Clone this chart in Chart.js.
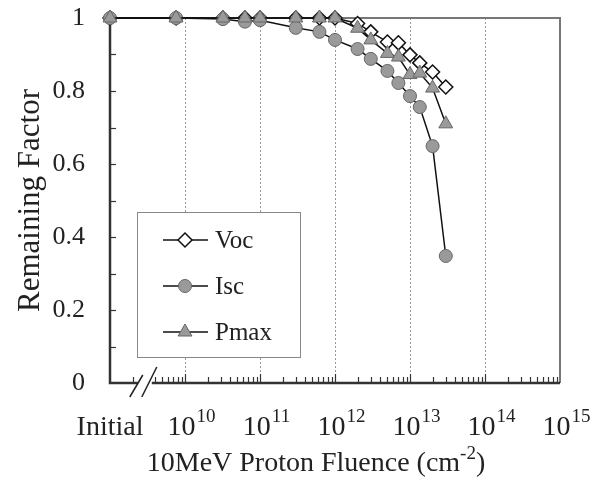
<!DOCTYPE html>
<html>
<head>
<meta charset="utf-8">
<script src="https://cdn.jsdelivr.net/npm/chart.js@4/dist/chart.umd.min.js"></script>
<style>
  body { margin: 0; background: #fff; }
  #wrap { width: 590px; height: 477px; }
</style>
</head>
<body>
<div id="wrap"><canvas id="chart"></canvas></div>
<script>
// fluence (cm^-2); first point is the "Initial" position at the left edge
const initialPos = 1e9;
const fluence = [1e9, 7.6e9, 3.2e10, 6.3e10, 1e11, 3e11, 6.2e11, 1e12, 2e12, 3e12, 5e12, 7e12, 1e13, 1.35e13, 2e13, 3e13];
const voc  = [1, 1, 1, 1, 1, 1, 1, 1, 0.985, 0.962, 0.934, 0.932, 0.899, 0.877, 0.852, 0.811];
const isc  = [1, 1, 0.997, 0.99, 0.994, 0.973, 0.962, 0.94, 0.915, 0.888, 0.855, 0.822, 0.786, 0.756, 0.649, 0.348];
const pmax = [1, 1, 1, 1, 1, 1, 1, 1, 0.972, 0.94, 0.903, 0.893, 0.845, 0.849, 0.808, 0.71];
const exponents = [10, 11, 12, 13, 14, 15];
const gridDecades = [1e10, 1e11, 1e12, 1e13, 1e14];

const serif = "'Liberation Serif', 'DejaVu Serif', serif";
const ink = '#222';

function pts(ys) {
  return fluence.map((f, i) => ({ x: f, y: ys[i] }));
}

// draws the frame, decade grid, inward ticks and the axis break
const axesPlugin = {
  id: 'axesDeco',
  beforeDatasetsDraw(chart) {
    const { ctx, chartArea: a, scales: { x, y } } = chart;
    ctx.save();
    // dotted decade gridlines
    ctx.strokeStyle = '#999';
    ctx.lineWidth = 1;
    ctx.setLineDash([2, 2]);
    gridDecades.forEach(d => {
      const px = Math.round(x.getPixelForValue(d)) + 0.5;
      ctx.beginPath();
      ctx.moveTo(px, a.top);
      ctx.lineTo(px, a.bottom);
      ctx.stroke();
    });
    ctx.setLineDash([]);
    // x minor ticks
    ctx.strokeStyle = '#333';
    ctx.lineWidth = 1.2;
    for (let e = 9; e < 15; e++) {
      for (let m = 1; m <= 9; m++) {
        const v = m * Math.pow(10, e);
        if (v <= x.min) continue;
        const px = Math.round(x.getPixelForValue(v)) + 0.5;
        const len = m === 1 ? 9 : 6;
        ctx.beginPath();
        ctx.moveTo(px, a.bottom);
        ctx.lineTo(px, a.bottom - len);
        ctx.stroke();
      }
    }
    // y ticks every 0.1
    for (let i = 1; i < 10; i++) {
      const py = Math.round(y.getPixelForValue(i / 10)) + 0.5;
      ctx.beginPath();
      ctx.moveTo(a.left, py);
      ctx.lineTo(a.left + 6, py);
      ctx.stroke();
    }
    // frame
    ctx.strokeStyle = '#777';
    ctx.lineWidth = 2;
    ctx.beginPath();
    ctx.moveTo(a.left, a.top);
    ctx.lineTo(a.right, a.top);
    ctx.lineTo(a.right, a.bottom);
    ctx.stroke();
    ctx.strokeStyle = '#333';
    ctx.lineWidth = 2.5;
    ctx.beginPath();
    ctx.moveTo(a.left, a.top);
    ctx.lineTo(a.left, a.bottom);
    ctx.lineTo(a.right, a.bottom);
    ctx.stroke();
    // axis break
    const bx = x.getPixelForValue(3e9);
    ctx.fillStyle = '#fff';
    ctx.fillRect(bx - 8, a.bottom - 8, 14, 12);
    ctx.strokeStyle = '#222';
    ctx.lineWidth = 1.5;
    ctx.beginPath();
    ctx.moveTo(bx - 16, a.bottom + 14);
    ctx.lineTo(bx - 3, a.bottom - 8);
    ctx.moveTo(bx - 4, a.bottom + 14);
    ctx.lineTo(bx + 11, a.bottom - 16);
    ctx.stroke();
    ctx.restore();
  },
  afterDraw(chart) {
    const { ctx, chartArea: a, scales: { x } } = chart;
    ctx.save();
    ctx.fillStyle = ink;
    ctx.textBaseline = 'alphabetic';
    // x tick labels
    const base = a.bottom + 52;
    ctx.font = '28px ' + serif;
    ctx.textAlign = 'center';
    ctx.fillText('Initial', x.getPixelForValue(initialPos), base);
    exponents.forEach(e => {
      ctx.font = '28px ' + serif;
      const w1 = ctx.measureText('10').width;
      ctx.font = '19px ' + serif;
      const w2 = ctx.measureText(String(e)).width;
      const cx = x.getPixelForValue(Math.pow(10, e)) + 6;
      const left = cx - (w1 + w2) / 2;
      ctx.textAlign = 'left';
      ctx.font = '28px ' + serif;
      ctx.fillText('10', left, base);
      ctx.font = '19px ' + serif;
      ctx.fillText(String(e), left + w1 + 1, base - 13);
    });
    // x axis title with superscript
    const t1 = '10MeV Proton Fluence (cm';
    const t2 = '-2';
    const t3 = ')';
    ctx.font = '28px ' + serif;
    const w1 = ctx.measureText(t1).width;
    const w3 = ctx.measureText(t3).width;
    ctx.font = '19px ' + serif;
    const w2 = ctx.measureText(t2).width;
    let tx = (a.left + a.right) / 2 - 19 - (w1 + w2 + w3) / 2;
    const ty = a.bottom + 88;
    ctx.textAlign = 'left';
    ctx.font = '28px ' + serif;
    ctx.fillText(t1, tx, ty);
    ctx.font = '19px ' + serif;
    ctx.fillText(t2, tx + w1, ty - 12);
    ctx.font = '28px ' + serif;
    ctx.fillText(t3, tx + w1 + w2, ty);

    // legend box
    const lx = 137, ly = 212, lw = 163, lh = 145;
    ctx.fillStyle = '#fff';
    ctx.fillRect(lx, ly, lw, lh);
    ctx.strokeStyle = '#888';
    ctx.lineWidth = 1;
    ctx.strokeRect(lx + 0.5, ly + 0.5, lw, lh);
    chart.data.datasets.forEach((ds, i) => {
      const yy = ly + 28 + i * 46;
      ctx.strokeStyle = ds.borderColor;
      ctx.lineWidth = 1.5;
      ctx.beginPath();
      ctx.moveTo(lx + 26, yy);
      ctx.lineTo(lx + 71, yy);
      ctx.stroke();
      const opts = {
        pointStyle: ds.pointStyle,
        radius: ds.pointRadius,
        borderWidth: ds.pointBorderWidth
      };
      ctx.fillStyle = ds.pointBackgroundColor;
      ctx.strokeStyle = ds.pointBorderColor;
      ctx.lineWidth = ds.pointBorderWidth;
      Chart.helpers.drawPoint(ctx, opts, lx + 48, yy);
      ctx.fillStyle = ink;
      ctx.font = '25px ' + serif;
      ctx.textAlign = 'left';
      ctx.textBaseline = 'middle';
      ctx.fillText(ds.label, lx + 78, yy + 1);
    });
    ctx.restore();
  }
};

new Chart(document.getElementById('chart').getContext('2d'), {
  type: 'line',
  data: {
    datasets: [
      {
        label: 'Voc',
        data: pts(voc),
        borderColor: '#111',
        borderWidth: 1.5,
        pointStyle: 'rectRot',
        pointRadius: 7,
        pointBackgroundColor: '#fff',
        pointBorderColor: '#111',
        pointBorderWidth: 1.5,
        order: 3,
        clip: false
      },
      {
        label: 'Isc',
        data: pts(isc),
        borderColor: '#111',
        borderWidth: 1.5,
        pointStyle: 'circle',
        pointRadius: 6.5,
        pointBackgroundColor: '#9a9a9a',
        pointBorderColor: '#666',
        pointBorderWidth: 1,
        order: 2,
        clip: false
      },
      {
        label: 'Pmax',
        data: pts(pmax),
        borderColor: '#111',
        borderWidth: 1.5,
        pointStyle: 'triangle',
        pointRadius: 8,
        pointBackgroundColor: '#9a9a9a',
        pointBorderColor: '#666',
        pointBorderWidth: 1,
        order: 1,
        clip: false
      }
    ]
  },
  options: {
    responsive: true,
    maintainAspectRatio: false,
    animation: false,
    layout: { padding: { top: 18, right: 30, left: 0, bottom: 0 } },
    plugins: {
      legend: { display: false },
      tooltip: { enabled: false }
    },
    scales: {
      x: {
        type: 'logarithmic',
        min: 1e9,
        max: 1e15,
        grid: { display: false },
        border: { display: false },
        ticks: { display: false },
        afterFit(s) { s.height = 94; s.paddingLeft = 0; s.paddingRight = 0; }
      },
      y: {
        type: 'linear',
        min: 0,
        max: 1,
        grid: { display: false, drawTicks: false },
        border: { display: false },
        ticks: {
          stepSize: 0.2,
          padding: 25,
          color: ink,
          font: { family: serif, size: 26 },
          callback: v => String(+v.toFixed(1))
        },
        title: {
          display: true,
          text: 'Remaining Factor',
          color: ink,
          font: { family: serif, size: 31 },
          padding: { top: 12, bottom: 0 }
        },
        afterFit(s) { s.width = 110; s.paddingTop = 0; s.paddingBottom = 0; }
      }
    }
  },
  plugins: [axesPlugin]
});
</script>
</body>
</html>
